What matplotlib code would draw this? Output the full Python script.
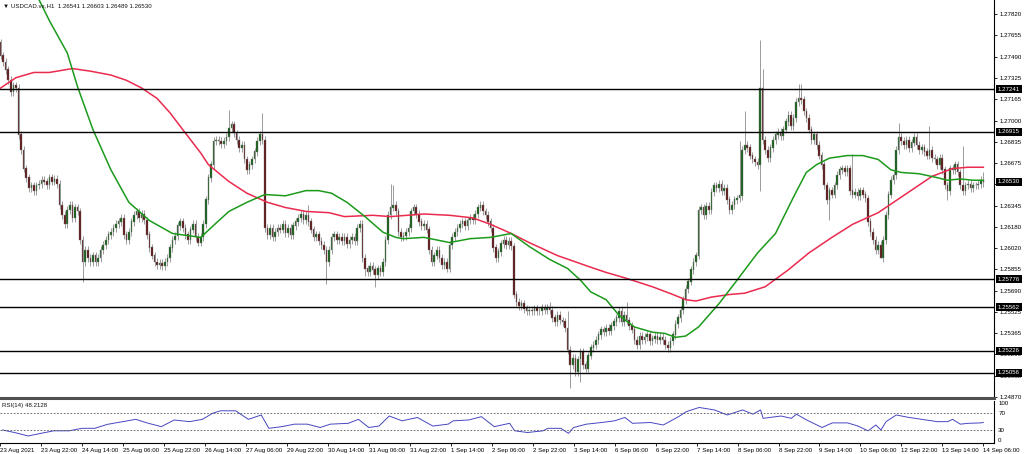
import numpy as np
import matplotlib.pyplot as plt
from matplotlib.transforms import blended_transform_factory

plt.rcParams['font.family'] = ['Liberation Sans', 'DejaVu Sans']

# USDCAD H1 closes, bar 0 = 23 Aug 2021 06:00, one value per hourly bar
closes = [
    1.2760, 1.2750, 1.2745, 1.2739, 1.2731, 1.2722, 1.2727, 1.2725, 1.2689, 1.2677,
    1.2663, 1.2656, 1.2648, 1.2650, 1.2646, 1.2650, 1.2651, 1.2654, 1.2653, 1.2650,
    1.2656, 1.2653, 1.2655, 1.2651, 1.2635, 1.2627, 1.2620, 1.2631, 1.2635, 1.2625,
    1.2633, 1.2630, 1.2608, 1.2591, 1.2600, 1.2594, 1.2591, 1.2596, 1.2591, 1.2594,
    1.2600, 1.2604, 1.2608, 1.2612, 1.2614, 1.2617, 1.2620, 1.2622, 1.2625, 1.2612,
    1.2608, 1.2614, 1.2622, 1.2627, 1.2630, 1.2625, 1.2628, 1.2623, 1.2612, 1.2602,
    1.2596, 1.2591, 1.2589, 1.2590, 1.2588, 1.2591, 1.2594, 1.2602, 1.2608, 1.2611,
    1.2619, 1.2622, 1.2617, 1.2612, 1.2608, 1.2616, 1.2620, 1.2610, 1.2606, 1.2610,
    1.2620, 1.2639, 1.2656, 1.2666, 1.2684, 1.2685, 1.2684, 1.2682, 1.2684, 1.2687,
    1.2694, 1.2697, 1.2690, 1.2685, 1.2679, 1.2681, 1.2670, 1.2662, 1.2666, 1.2670,
    1.2676, 1.2684, 1.2689, 1.2685, 1.2617, 1.2612, 1.2617, 1.2610, 1.2614, 1.2617,
    1.2616, 1.2620, 1.2613, 1.2617, 1.2612, 1.2619, 1.2622, 1.2625, 1.2628, 1.2623,
    1.2627, 1.2622, 1.2616, 1.2610, 1.2612, 1.2607, 1.2604, 1.2600, 1.2591, 1.2600,
    1.2610, 1.2612, 1.2608, 1.2610, 1.2607, 1.2610, 1.2605, 1.2608, 1.2610, 1.2607,
    1.2617, 1.2620, 1.2594, 1.2586, 1.2583, 1.2588, 1.2585, 1.2581, 1.2586, 1.2583,
    1.2591, 1.2608, 1.2627, 1.2633, 1.2635, 1.2630, 1.2614, 1.2610, 1.2611, 1.2614,
    1.2617, 1.2630, 1.2633, 1.2628, 1.2622, 1.2619, 1.2620, 1.2616, 1.2600, 1.2591,
    1.2596, 1.2600, 1.2594, 1.2589, 1.2591, 1.2586, 1.2604, 1.2610, 1.2614, 1.2617,
    1.2620, 1.2622, 1.2619, 1.2623, 1.2625, 1.2623, 1.2628, 1.2633, 1.2635, 1.2630,
    1.2627, 1.2622, 1.2617, 1.2602, 1.2594, 1.2599, 1.2605, 1.2608, 1.2604, 1.2607,
    1.2603, 1.2566, 1.2560, 1.2557, 1.2559, 1.2555, 1.2553, 1.2554, 1.2553, 1.2555,
    1.2553, 1.2553, 1.2556, 1.2554, 1.2556, 1.2554, 1.2548, 1.2545, 1.2550, 1.2546,
    1.2545, 1.2540, 1.2523, 1.2512, 1.2517, 1.2506, 1.2516, 1.2522, 1.2512, 1.2509,
    1.2519, 1.2525, 1.2527, 1.2531, 1.2535, 1.2539, 1.2537, 1.2540, 1.2538, 1.2542,
    1.2545, 1.2548, 1.2553, 1.2545, 1.2550, 1.2546, 1.2542, 1.2539, 1.2531, 1.2527,
    1.2534, 1.2531, 1.2533, 1.2535, 1.2530, 1.2532, 1.2534, 1.2531, 1.2533, 1.2531,
    1.2527, 1.2525, 1.2530, 1.2535, 1.2543, 1.2548, 1.2554, 1.2562, 1.2570, 1.2576,
    1.2585, 1.2591, 1.2596, 1.2631, 1.2633, 1.2627, 1.2634, 1.2631, 1.2645, 1.2650,
    1.2648, 1.2651, 1.2646, 1.2648, 1.2639, 1.2631, 1.2635, 1.2639, 1.2640, 1.2642,
    1.2677, 1.2681, 1.2679, 1.2673, 1.2670, 1.2668, 1.2666, 1.2725, 1.2685, 1.2677,
    1.2671, 1.2679, 1.2685, 1.2689, 1.2691, 1.2688, 1.2693, 1.2699, 1.2704, 1.2696,
    1.2702, 1.2714, 1.2717, 1.2716, 1.2707, 1.2702, 1.2693, 1.2685, 1.2689, 1.2681,
    1.2673, 1.2666, 1.2650, 1.2639, 1.2646, 1.2643, 1.2650, 1.2658, 1.2662, 1.2663,
    1.2660, 1.2663, 1.2646, 1.2643, 1.2645, 1.2642, 1.2646, 1.2643, 1.2640, 1.2622,
    1.2614, 1.2608, 1.2600, 1.2604, 1.2594, 1.2608, 1.2627, 1.2643, 1.2654, 1.2658,
    1.2677, 1.2687, 1.2684, 1.2681, 1.2685, 1.2679, 1.2683, 1.2687, 1.2681, 1.2677,
    1.2679, 1.2676, 1.2673, 1.2677, 1.2671, 1.2670, 1.2666, 1.2671, 1.2662, 1.2650,
    1.2646, 1.2663, 1.2662, 1.2666, 1.2660, 1.2650, 1.2646, 1.2650, 1.2651, 1.2648,
    1.2650, 1.2650, 1.2651, 1.2654, 1.2653,
]
first_open = 1.2770

# visible long wicks
hi_bars = [0, 90, 103, 121, 153, 154, 215, 222, 245, 289, 291, 297, 298, 312, 313, 333, 351, 363, 376, 384]
hi_vals = [1.2778, 1.2708, 1.2706, 1.2635, 1.2651, 1.2650, 1.2560, 1.2553, 1.2560, 1.2684,
           1.2707, 1.2762, 1.2740, 1.2728, 1.2728, 1.2674, 1.2698, 1.2696, 1.2680, 1.26603]
lo_bars = [33, 128, 143, 147, 223, 227, 297, 324, 344, 370, 384]
lo_vals = [1.2576, 1.2574, 1.2580, 1.2572, 1.2494, 1.2499, 1.2646, 1.2623, 1.2597, 1.2639, 1.26489]

# moving averages (green = fast, red = slow)
green_bars = [1, 9, 16, 20, 27, 31, 37, 44, 51, 59, 68, 79, 85, 90, 97, 104, 112, 120, 125, 130,
              136, 143, 150, 155, 158, 166, 176, 184, 192, 200, 207, 215, 222, 227, 231, 237, 242, 248, 255, 260,
              264, 268, 273, 281, 288, 296, 303, 307, 310, 315, 319, 324, 331, 337, 343, 348, 352, 359, 366, 370,
              375, 380, 384]
green_vals = [1.2851, 1.2820, 1.2793, 1.2777, 1.2752, 1.2726, 1.2693, 1.2662, 1.2637, 1.2623,
              1.2613, 1.2610, 1.2621, 1.2630, 1.2637, 1.2643, 1.2642, 1.2646, 1.2646, 1.2644,
              1.2637, 1.2626, 1.2614, 1.2610, 1.2609, 1.2610, 1.2606, 1.2609, 1.2610, 1.2613,
              1.2603, 1.2593, 1.2586, 1.2577, 1.2568, 1.2562, 1.2550, 1.2541, 1.2537, 1.2536,
              1.2533, 1.2534, 1.2541, 1.2559, 1.2577, 1.2598, 1.2613, 1.2629, 1.2641, 1.2660,
              1.2666, 1.2671, 1.2673, 1.2673, 1.2670, 1.2662, 1.2660, 1.2659, 1.2656, 1.2654,
              1.2655, 1.2654, 1.2654]
red_bars = [1, 7, 14, 20, 29, 36, 44, 50, 56, 62, 67, 72, 79, 82, 90, 97, 105, 112, 120, 129,
            135, 146, 153, 166, 176, 185, 192, 200, 207, 218, 231, 237, 244, 255, 263, 268, 272, 278, 285, 291,
            299, 308, 316, 325, 333, 343, 352, 364, 372, 378, 384]
red_vals = [1.2725, 1.2733, 1.2737, 1.2737, 1.2740, 1.2738, 1.2735, 1.2731, 1.2725, 1.2717,
            1.2706, 1.2693, 1.2675, 1.2666, 1.2653, 1.2644, 1.2637, 1.2633, 1.2630, 1.2629,
            1.2626, 1.2627, 1.2626, 1.2628, 1.2627, 1.2625, 1.2620, 1.2613, 1.2606, 1.2596,
            1.2587, 1.2583, 1.2579, 1.2572, 1.2566, 1.2562, 1.2561, 1.2564, 1.2566, 1.2567,
            1.2572, 1.2585, 1.2598, 1.2610, 1.2620, 1.2629, 1.2641, 1.2657, 1.2663, 1.2664,
            1.2664]

# RSI(14)
rsi_bars = [1, 6, 11, 16, 21, 27, 32, 37, 42, 47, 53, 58, 63, 68, 74, 79, 83, 86, 92, 97,
            102, 105, 110, 115, 120, 125, 129, 136, 140, 144, 148, 152, 157, 163, 169, 175, 177, 183, 188, 193,
            199, 201, 206, 212, 214, 219, 222, 224, 229, 235, 240, 244, 247, 254, 259, 265, 268, 273, 279, 284,
            290, 294, 297, 298, 305, 309, 311, 315, 319, 321, 325, 331, 335, 339, 342, 344, 346, 350, 355, 360,
            366, 370, 372, 375, 378, 383, 384]
rsi_vals = [30, 23.5, 15.6, 22, 28, 28, 34, 34, 43.6, 49, 55.5, 46, 38, 54, 50, 55.5, 70, 76, 76, 55.5,
            66, 34, 38, 44, 44, 36, 44, 46, 55.5, 36, 39.5, 63.5, 52, 60, 39.5, 44, 52, 54, 62, 38,
            46, 28, 24, 28, 34, 34, 22, 36, 44, 48, 52, 60, 46, 48, 42, 62, 74, 84, 78, 66,
            78, 68, 78, 58, 63.5, 58, 68, 54, 42, 36, 47, 47, 39.5, 28, 42, 30, 50, 66, 60, 55.5,
            50, 50, 55.5, 44, 46, 47, 48.2]

levels = [1.27241, 1.26915, 1.25776, 1.25562, 1.25226, 1.25056]
last_price = 1.26530
price_ticks = [1.27820, 1.27655, 1.27490, 1.27325, 1.27165, 1.27000, 1.26835, 1.26675, 1.26510,
               1.26345, 1.26180, 1.26020, 1.25855, 1.25690, 1.25525, 1.25365, 1.25200, 1.25035, 1.24870]
date_labels = ['23 Aug 2021', '23 Aug 22:00', '24 Aug 14:00', '25 Aug 06:00', '25 Aug 22:00',
               '26 Aug 14:00', '27 Aug 06:00', '29 Aug 22:00', '30 Aug 14:00', '31 Aug 06:00',
               '31 Aug 22:00', '1 Sep 14:00', '2 Sep 06:00', '2 Sep 22:00', '3 Sep 14:00',
               '6 Sep 06:00', '6 Sep 22:00', '7 Sep 14:00', '8 Sep 06:00', '8 Sep 22:00',
               '9 Sep 14:00', '10 Sep 06:00', '12 Sep 22:00', '13 Sep 14:00', '14 Sep 06:00']

W, H = 1024, 454
fig = plt.figure(figsize=(W / 100, H / 100), dpi=100)
fig.patch.set_facecolor('white')

ax = fig.add_axes([0, 1 - 398 / H, 994 / W, 398 / H])
ax2 = fig.add_axes([0, 1 - 442.5 / H, 994 / W, 41.7 / H])
xlim = (0.78, 388.15)
fs = 4.4

# candles
c = np.array(closes)
o = np.array([first_open] + closes[:-1])
idx = np.arange(len(c))
top = np.maximum(o, c)
bot = np.minimum(o, c)
hi = top + 0.0003
lo = bot - 0.0003
hi[hi_bars] = np.maximum(top[hi_bars], hi_vals)
lo[lo_bars] = np.minimum(bot[lo_bars], lo_vals)
ax.vlines(idx, lo, hi, color='#8c8c8c', lw=0.6, zorder=2)
up = c >= o
ax.bar(idx[up], (top - bot)[up] + 0.00003, bottom=bot[up], width=0.62,
       color='#0e5c0e', edgecolor='#7d7d7d', lw=0.3, zorder=3)
ax.bar(idx[~up], (top - bot)[~up] + 0.00003, bottom=bot[~up], width=0.62,
       color='#5a0e0e', edgecolor='#7d7d7d', lw=0.3, zorder=3)

ax.plot(red_bars, red_vals, color='#ea2a4e', lw=1.1, zorder=4)
ax.plot(green_bars, green_vals, color='#1c9a1c', lw=1.1, zorder=4)

for lev in levels:
    ax.axhline(lev, color='black', lw=1.0, zorder=5)

ax.set_xlim(*xlim)
ax.set_ylim(1.24863, 1.27928)
ax.set_xticks([])
ax.yaxis.tick_right()
ax.set_yticks(price_ticks)
ax.set_yticklabels(['%.5f' % t for t in price_ticks])
ax.tick_params(axis='y', length=2.5, width=0.6, pad=1.5, labelsize=fs, colors='black')
for s in ['top', 'left']:
    ax.spines[s].set_visible(False)
ax.spines['right'].set_linewidth(0.8)
ax.spines['bottom'].set_linewidth(2.2)
ax.spines['bottom'].set_color('#505050')

tr = blended_transform_factory(ax.transAxes, ax.transData)
for lev in levels + [last_price]:
    ax.text(1.0 + 4 / 994, lev, '%.5f' % lev, transform=tr, ha='left', va='center',
            color='white', fontsize=fs, clip_on=False, zorder=10,
            bbox=dict(boxstyle='square,pad=0.25', fc='black', ec='none'))

fig.text(3 / W, 1 - 5.5 / H, '\u25bc USDCAD.vx,H1  1.26541 1.26603 1.26489 1.26530',
         fontsize=fs, va='center', ha='left', color='#111111')

# RSI panel
ax2.plot(rsi_bars, rsi_vals, color='#4646c0', lw=0.7)
for v in [70, 30]:
    ax2.axhline(v, color='#555555', lw=0.6, ls=(0, (2, 2)))
ax2.set_xlim(*xlim)
ax2.set_ylim(0, 100)
ax2.yaxis.tick_right()
ax2.set_yticks([0, 30, 70, 100])
ax2.set_yticklabels(['0', '30', '70', '100'])
ax2.tick_params(axis='y', length=0, pad=3, labelsize=fs)
yl = ax2.get_yticklabels()
yl[0].set_va('bottom')
yl[-1].set_va('top')
ax2.set_xticks(np.arange(len(date_labels)) * 16)
ax2.set_xticklabels(date_labels, ha='left')
ax2.tick_params(axis='x', length=2.5, width=0.6, pad=1.2, labelsize=fs)
for s in ['top', 'left']:
    ax2.spines[s].set_visible(False)
ax2.spines['right'].set_linewidth(0.8)
ax2.spines['bottom'].set_linewidth(0.8)
fig.text(2 / W, 1 - 405.5 / H, 'RSI(14) 48.2128', fontsize=fs, va='center', ha='left', color='#111111')

fig.savefig('out.png', dpi=100)
